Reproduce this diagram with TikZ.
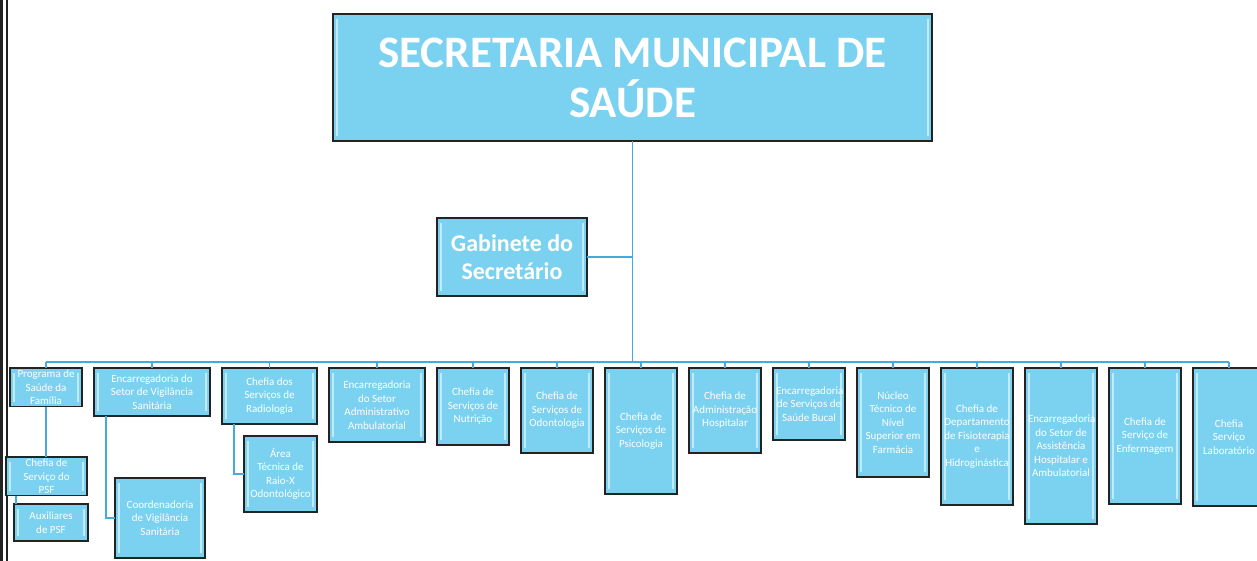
\documentclass[tikz,border=0pt]{standalone}
\usepackage{fontspec}
\setmainfont{Carlito}
\usetikzlibrary{positioning}
\definecolor{boxfill}{RGB}{122,210,240}
\definecolor{boxline}{RGB}{35,35,35}
\definecolor{linkblue}{RGB}{70,170,220}

\begin{document}
\begin{tikzpicture}[
		x=1pt, y=-1pt,
		node distance=12pt,
		unit/.style = {draw=boxline, line width=1.4pt, fill=boxfill, text=white,
			font=\fontsize{11}{13.5}\selectfont, align=flush center, inner sep=2pt, outer sep=0pt,
			minimum width=72pt, text width=66pt, anchor=north west,
			path picture={
				\draw[white, opacity=.55, line width=1.6pt]
				([shift={(4pt,-5pt)}]path picture bounding box.north west) -- ([shift={(4pt,5pt)}]path picture bounding box.south west)
				([shift={(-4pt,-5pt)}]path picture bounding box.north east) -- ([shift={(-4pt,5pt)}]path picture bounding box.south east);
			}},
		link/.style = {draw=linkblue, line width=1.8pt}
	]
	\useasboundingbox (0,0) rectangle (1257,561);
	% Page edge.
	\draw[boxline, line width=3pt] (1.5,0) -- (1.5,561);
	\draw[boxline, line width=2.5pt] (7,0) -- (7,561);

	% Top.
	\node[unit, font=\bfseries\fontsize{45}{50}\selectfont, minimum width=599pt, minimum height=127pt, text width=580pt] (sec) at (333,14) {SECRETARIA MUNICIPAL DE\\SAÚDE};
	\node[unit, font=\bfseries\fontsize{24}{28}\selectfont, minimum width=150pt, minimum height=78pt, text width=140pt] (gab) at (437,218) {Gabinete do\\Secretário};
	\coordinate (bus) at (631,362);

	% Level 1.
	\node[unit, minimum height=35pt] (b1) at (10,368) {Programa de\\Saúde da\\Família};
	\node[unit, right=of b1.north east, anchor=north west, minimum width=116pt, text width=108pt, minimum height=48pt] (b2) {Encarregadoria do\\Setor de Vigilância\\Sanitária};
	\node[unit, right=of b2.north east, anchor=north west, minimum width=95pt, text width=87pt, minimum height=56pt] (b3) {Chefia dos\\Serviços de\\Radiologia};
	\node[unit, right=of b3.north east, anchor=north west, minimum width=96pt, text width=88pt, minimum height=74pt] (b4) {Encarregadoria\\do Setor\\Administrativo\\Ambulatorial};
	\node[unit, right=of b4.north east, anchor=north west, minimum height=77pt] (b5) {Chefia de\\Serviços de\\Nutrição};
	\node[unit, right=of b5.north east, anchor=north west, minimum height=85pt] (b6) {Chefia de\\Serviços de\\Odontologia};
	\node[unit, right=of b6.north east, anchor=north west, minimum height=126pt] (b7) {Chefia de\\Serviços de\\Psicologia};
	\node[unit, right=of b7.north east, anchor=north west, minimum height=85pt] (b8) {Chefia de\\Administração\\Hospitalar};
	\node[unit, right=of b8.north east, anchor=north west, minimum height=72pt] (b9) {Encarregadoria\\de Serviços de\\Saúde Bucal};
	\node[unit, right=of b9.north east, anchor=north west, minimum height=109pt] (b10) {Núcleo\\Técnico de\\Nível\\Superior em\\Farmácia};
	\node[unit, right=of b10.north east, anchor=north west, minimum height=137pt] (b11) {Chefia de\\Departamento\\de Fisioterapia\\e\\Hidroginástica};
	\node[unit, right=of b11.north east, anchor=north west, minimum height=156pt] (b12) {Encarregadoria\\do Setor de\\Assistência\\Hospitalar e\\Ambulatorial};
	\node[unit, right=of b12.north east, anchor=north west, minimum height=136pt] (b13) {Chefia de\\Serviço de\\Enfermagem};
	\node[unit, right=of b13.north east, anchor=north west, minimum height=138pt] (b14) {Chefia\\Serviço\\Laboratório};

	% Level 2.
	\node[unit, minimum width=81pt, text width=75pt, minimum height=35pt] (psf) at (6,457) {Chefia de\\Serviço do\\PSF};
	\node[unit, minimum width=74pt, text width=68pt, minimum height=37pt] (aux) at (14,504) {Auxiliares\\de PSF};
	\node[unit, minimum width=90pt, text width=84pt, minimum height=80pt] (coord) at (115,478) {Coordenadoria\\de Vigilância\\Sanitária};
	\node[unit, minimum width=73pt, text width=67pt, minimum height=76pt] (raiox) at (244,436) {Área\\Técnica de\\Raio-X\\Odontológico};

	\draw[link] (sec.south) -- (sec.south |- bus);
	\draw[link] (gab.east) -- (gab.east -| sec.south);
	\draw[link] (b1.north |- bus) -- (b14.north |- bus);
	\foreach \i in {1,...,14}
		\draw[link] (b\i.north) -- (b\i.north |- bus);
	\draw[link] (b1.south) -- (b1.south |- psf.north);
	\draw[link] ([xshift=10pt]psf.south west) -- ([xshift=10pt]psf.south west |- aux.north);
	\draw[link] ([xshift=12pt]b2.south west) |- (coord.west);
	\draw[link] ([xshift=12pt]b3.south west) |- (raiox.west);
\end{tikzpicture}
\end{document}
